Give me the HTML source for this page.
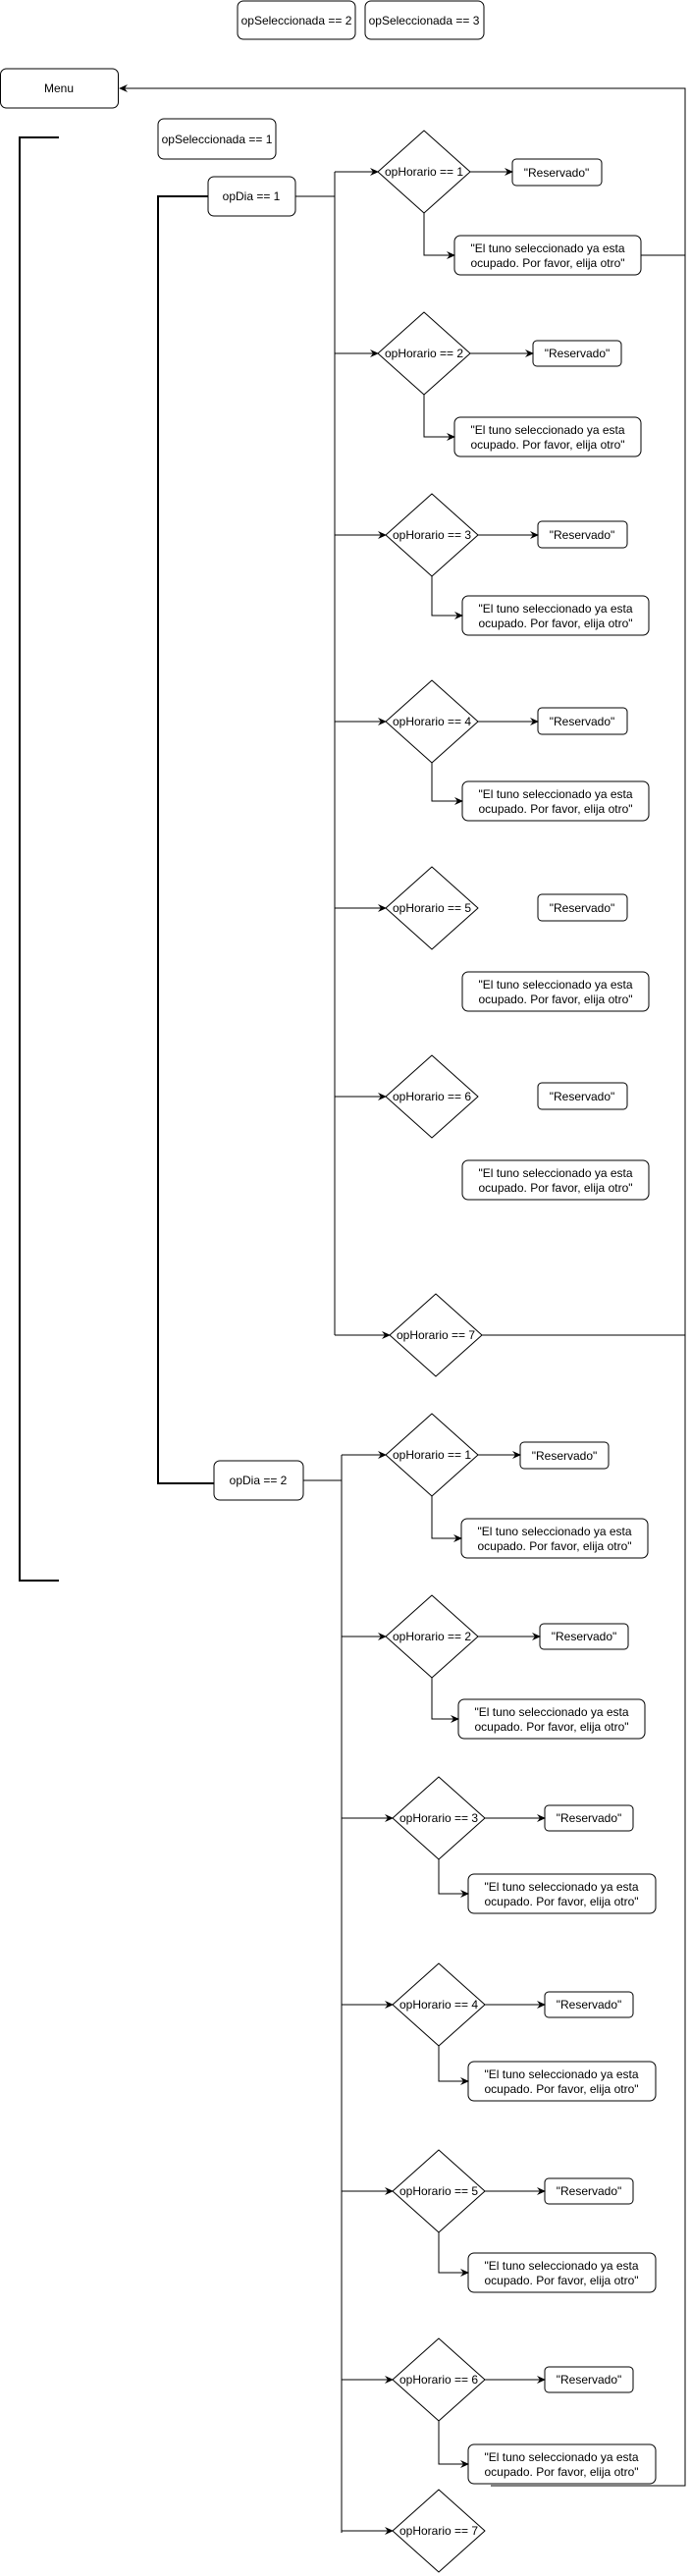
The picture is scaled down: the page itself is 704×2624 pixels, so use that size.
<!DOCTYPE html>
<html><head><meta charset="utf-8"><style>
html,body{margin:0;padding:0;background:#fff}
svg{display:block}
text{font-family:"Liberation Sans",Arial,sans-serif;font-size:12px;fill:#000}
</style></head><body>
<svg width="704" height="2624" viewBox="0 0 704 2624" xmlns="http://www.w3.org/2000/svg">
<defs>
<marker id="a" markerWidth="10" markerHeight="10" refX="8" refY="5" orient="auto" markerUnits="userSpaceOnUse">
<path d="M0,1 L9,5 L0,9 L3,5 Z" fill="#000"/>
</marker>
</defs>
<g fill="none" stroke="#000" stroke-width="1">
<rect x="242" y="1" width="120" height="39" rx="6"/>
<rect x="372" y="1" width="121" height="39" rx="6"/>
<rect x="0.5" y="70" width="120" height="40" rx="6"/>
<rect x="161" y="121" width="120" height="41" rx="6"/>
<rect x="212" y="180" width="89" height="40" rx="6"/>
<rect x="218" y="1488" width="91" height="40" rx="6"/>
<path d="M60,140 H20 V1610 H60" stroke-width="2"/>
<path d="M212,200 H161 V1511 H218" stroke-width="2"/>
<path d="M500,2532 H698 V90 H122" marker-end="url(#a)"/>
<path d="M653,260 H698"/>
<path d="M491,1360 H698"/>
<path d="M301,200 H341"/>
<path d="M341,175 V1360"/>
<path d="M309,1508 H348"/>
<path d="M348,1482 V2580"/>
</g>

<g fill="none" stroke="#000" stroke-width="1" stroke-linejoin="round">
<path d="M432,133 L479,175 L432,217 L385,175 Z"/>
<path d="M432,318 L479,360 L432,402 L385,360 Z"/>
<path d="M440,503 L487,545 L440,587 L393,545 Z"/>
<path d="M440,693 L487,735 L440,777 L393,735 Z"/>
<path d="M440,883 L487,925 L440,967 L393,925 Z"/>
<path d="M440,1075 L487,1117 L440,1159 L393,1117 Z"/>
<path d="M444,1318 L491,1360 L444,1402 L397,1360 Z"/>
<path d="M440,1440 L487,1482 L440,1524 L393,1482 Z"/>
<path d="M440,1625 L487,1667 L440,1709 L393,1667 Z"/>
<path d="M447,1810 L494,1852 L447,1894 L400,1852 Z"/>
<path d="M447,2000 L494,2042 L447,2084 L400,2042 Z"/>
<path d="M447,2190 L494,2232 L447,2274 L400,2232 Z"/>
<path d="M447,2382 L494,2424 L447,2466 L400,2424 Z"/>
<path d="M447,2536 L494,2578 L447,2620 L400,2578 Z"/>

<rect x="522" y="162" width="91" height="27" rx="4"/>
<rect x="543" y="347" width="90" height="26" rx="4"/>
<rect x="548" y="531" width="91" height="27" rx="4"/>
<rect x="548" y="721" width="91" height="27" rx="4"/>
<rect x="548" y="911" width="91" height="27" rx="4"/>
<rect x="548" y="1103" width="91" height="27" rx="4"/>
<rect x="463" y="240" width="190" height="40" rx="6"/>
<rect x="463" y="425" width="190" height="40" rx="6"/>
<rect x="471" y="607" width="190" height="40" rx="6"/>
<rect x="471" y="796" width="190" height="40" rx="6"/>
<rect x="471" y="990" width="190" height="40" rx="6"/>
<rect x="471" y="1182" width="190" height="40" rx="6"/>
<rect x="530" y="1469" width="90" height="27" rx="4"/>
<rect x="550" y="1654" width="90" height="26" rx="4"/>
<rect x="555" y="1839" width="90" height="26" rx="4"/>
<rect x="555" y="2029" width="90" height="26" rx="4"/>
<rect x="555" y="2219" width="90" height="26" rx="4"/>
<rect x="555" y="2411" width="90" height="26" rx="4"/>
<rect x="470" y="1547" width="190" height="40" rx="6"/>
<rect x="467" y="1731" width="190" height="40" rx="6"/>
<rect x="477" y="1909" width="191" height="40" rx="6"/>
<rect x="477" y="2100" width="191" height="40" rx="6"/>
<rect x="477" y="2295" width="191" height="40" rx="6"/>
<rect x="477" y="2490" width="191" height="40" rx="6"/>
</g>

<g fill="none" stroke="#000" stroke-width="1">
<path d="M341,175 H385" marker-end="url(#a)"/>
<path d="M341,360 H385" marker-end="url(#a)"/>
<path d="M341,545 H393" marker-end="url(#a)"/>
<path d="M341,735 H393" marker-end="url(#a)"/>
<path d="M341,925 H393" marker-end="url(#a)"/>
<path d="M341,1117 H393" marker-end="url(#a)"/>
<path d="M341,1360 H397" marker-end="url(#a)"/>
<path d="M479,175 H522" marker-end="url(#a)"/>
<path d="M479,360 H543" marker-end="url(#a)"/>
<path d="M487,545 H548" marker-end="url(#a)"/>
<path d="M487,735 H548" marker-end="url(#a)"/>
<path d="M432,217 V260 H463" marker-end="url(#a)"/>
<path d="M432,402 V445 H463" marker-end="url(#a)"/>
<path d="M440,587 V627 H471" marker-end="url(#a)"/>
<path d="M440,777 V816 H471" marker-end="url(#a)"/>
<path d="M348,1482 H393" marker-end="url(#a)"/>
<path d="M348,1667 H393" marker-end="url(#a)"/>
<path d="M348,1852 H400" marker-end="url(#a)"/>
<path d="M348,2042 H400" marker-end="url(#a)"/>
<path d="M348,2232 H400" marker-end="url(#a)"/>
<path d="M348,2424 H400" marker-end="url(#a)"/>
<path d="M348,2578 H400" marker-end="url(#a)"/>
<path d="M487,1482 H530" marker-end="url(#a)"/>
<path d="M487,1667 H550" marker-end="url(#a)"/>
<path d="M494,1852 H555" marker-end="url(#a)"/>
<path d="M494,2042 H555" marker-end="url(#a)"/>
<path d="M494,2232 H555" marker-end="url(#a)"/>
<path d="M494,2424 H555" marker-end="url(#a)"/>
<path d="M440,1524 V1567 H470" marker-end="url(#a)"/>
<path d="M440,1709 V1751 H467" marker-end="url(#a)"/>
<path d="M447,1894 V1929 H477" marker-end="url(#a)"/>
<path d="M447,2084 V2120 H477" marker-end="url(#a)"/>
<path d="M447,2274 V2315 H477" marker-end="url(#a)"/>
<path d="M447,2466 V2510 H477" marker-end="url(#a)"/>
</g>

<g text-anchor="middle">
<text x="302" y="25">opSeleccionada == 2</text>
<text x="432" y="25">opSeleccionada == 3</text>
<text x="60" y="94">Menu</text>
<text x="221" y="146">opSeleccionada == 1</text>
<text x="256" y="204">opDia == 1</text>
<text x="263" y="1512">opDia == 2</text>

<text x="432" y="179">opHorario == 1</text>
<text x="432" y="364">opHorario == 2</text>
<text x="440" y="549">opHorario == 3</text>
<text x="440" y="739">opHorario == 4</text>
<text x="440" y="929">opHorario == 5</text>
<text x="440" y="1121">opHorario == 6</text>
<text x="444" y="1364">opHorario == 7</text>

<text x="440" y="1486">opHorario == 1</text>
<text x="440" y="1671">opHorario == 2</text>
<text x="447" y="1856">opHorario == 3</text>
<text x="447" y="2046">opHorario == 4</text>
<text x="447" y="2236">opHorario == 5</text>
<text x="447" y="2428">opHorario == 6</text>
<text x="447" y="2582">opHorario == 7</text>

<text x="567" y="180">"Reservado"</text>
<text x="588" y="364">"Reservado"</text>
<text x="593" y="549">"Reservado"</text>
<text x="593" y="739">"Reservado"</text>
<text x="593" y="929">"Reservado"</text>
<text x="593" y="1121">"Reservado"</text>
<text x="575" y="1487">"Reservado"</text>
<text x="595" y="1671">"Reservado"</text>
<text x="600" y="1856">"Reservado"</text>
<text x="600" y="2046">"Reservado"</text>
<text x="600" y="2236">"Reservado"</text>
<text x="600" y="2428">"Reservado"</text>

<text x="558" y="257">"El tuno seleccionado ya esta</text><text x="558" y="272">ocupado. Por favor, elija otro"</text>
<text x="558" y="442">"El tuno seleccionado ya esta</text><text x="558" y="457">ocupado. Por favor, elija otro"</text>
<text x="566" y="624">"El tuno seleccionado ya esta</text><text x="566" y="639">ocupado. Por favor, elija otro"</text>
<text x="566" y="813">"El tuno seleccionado ya esta</text><text x="566" y="828">ocupado. Por favor, elija otro"</text>
<text x="566" y="1007">"El tuno seleccionado ya esta</text><text x="566" y="1022">ocupado. Por favor, elija otro"</text>
<text x="566" y="1199">"El tuno seleccionado ya esta</text><text x="566" y="1214">ocupado. Por favor, elija otro"</text>

<text x="565" y="1564">"El tuno seleccionado ya esta</text><text x="565" y="1579">ocupado. Por favor, elija otro"</text>
<text x="562" y="1748">"El tuno seleccionado ya esta</text><text x="562" y="1763">ocupado. Por favor, elija otro"</text>
<text x="572" y="1926">"El tuno seleccionado ya esta</text><text x="572" y="1941">ocupado. Por favor, elija otro"</text>
<text x="572" y="2117">"El tuno seleccionado ya esta</text><text x="572" y="2132">ocupado. Por favor, elija otro"</text>
<text x="572" y="2312">"El tuno seleccionado ya esta</text><text x="572" y="2327">ocupado. Por favor, elija otro"</text>
<text x="572" y="2507">"El tuno seleccionado ya esta</text><text x="572" y="2522">ocupado. Por favor, elija otro"</text>
</g>
</svg>
</body></html>
